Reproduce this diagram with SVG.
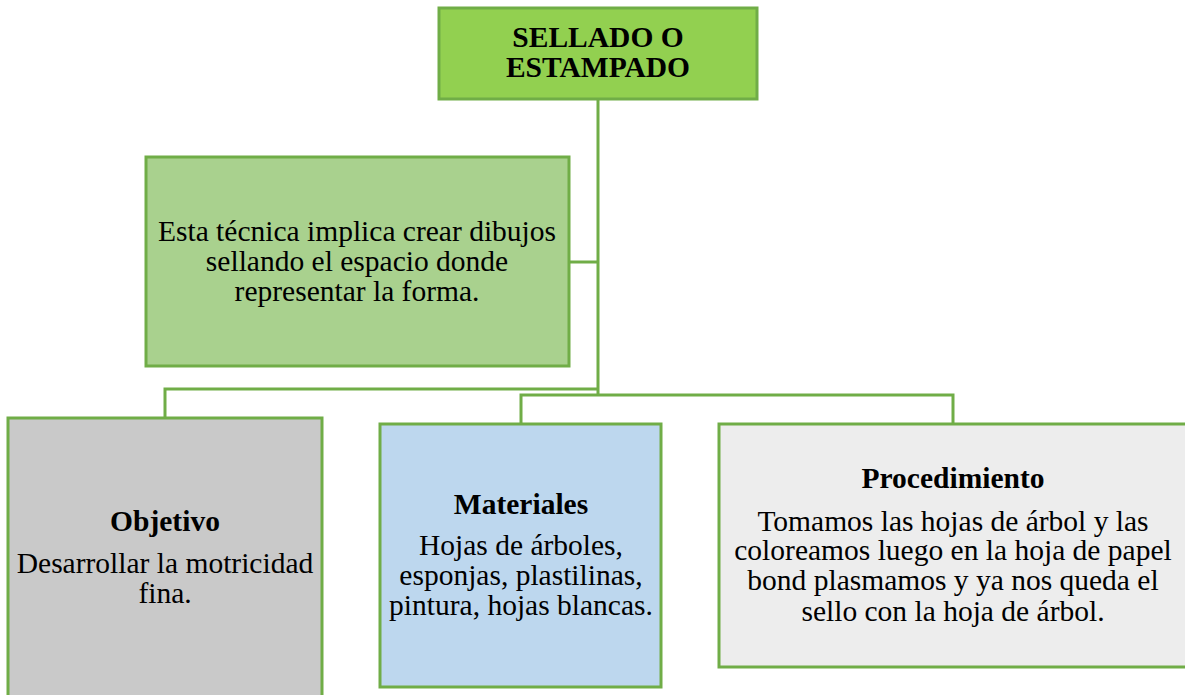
<svg xmlns="http://www.w3.org/2000/svg" width="1185" height="695" viewBox="0 0 1185 695">
<style>
.box{stroke:#70AD47;stroke-width:3}
.conn{fill:none;stroke:#70AD47;stroke-width:3}
text{font-family:"Liberation Serif","Times New Roman",serif;fill:#000;text-anchor:middle}
.t{font-size:29.5px}
.b{font-weight:bold}
</style>
<rect width="1185" height="695" fill="#fff"/>
<g id="connectors">
<path class="conn" d="M598 99 V395"/>
<path class="conn" d="M569 262 H598"/>
<path class="conn" d="M598 389 H165 V418"/>
<path class="conn" d="M521 424 V395 H953 V424"/>
</g>
<g id="title">
<rect class="box" x="439" y="8" width="318" height="91" fill="#92D050"/>
<text class="t b" x="598" y="47">SELLADO O</text>
<text class="t b" x="598" y="77">ESTAMPADO</text>
</g>
<g id="definicion">
<rect class="box" x="146" y="157" width="423" height="209" fill="#A9D18E"/>
<text class="t" x="357" y="241">Esta técnica implica crear dibujos</text>
<text class="t" x="357" y="271">sellando el espacio donde</text>
<text class="t" x="357" y="301">representar la forma.</text>
</g>
<g id="objetivo">
<rect class="box" x="8" y="418" width="314" height="290" fill="#C9C9C9"/>
<text class="t b" x="165" y="531">Objetivo</text>
<text class="t" x="165" y="573">Desarrollar la motricidad</text>
<text class="t" x="165" y="603">fina.</text>
</g>
<g id="materiales">
<rect class="box" x="380" y="424" width="281" height="263" fill="#BDD7EE"/>
<text class="t b" x="521" y="514">Materiales</text>
<text class="t" x="521" y="555">Hojas de árboles,</text>
<text class="t" x="521" y="585">esponjas, plastilinas,</text>
<text class="t" x="521" y="615">pintura, hojas blancas.</text>
</g>
<g id="procedimiento">
<rect class="box" x="719" y="424" width="480" height="243" fill="#EDEDED"/>
<text class="t b" x="953" y="488">Procedimiento</text>
<text class="t" x="953" y="531">Tomamos las hojas de árbol y las</text>
<text class="t" x="953" y="560">coloreamos luego en la hoja de papel</text>
<text class="t" x="953" y="590">bond plasmamos y ya nos queda el</text>
<text class="t" x="953" y="621">sello con la hoja de árbol.</text>
</g>
</svg>
